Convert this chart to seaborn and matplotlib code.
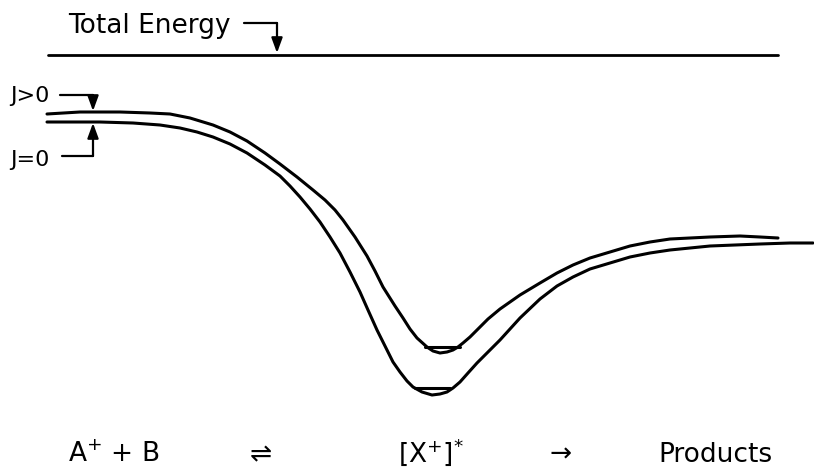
import numpy as np
import pandas as pd
import seaborn as sns
import matplotlib.pyplot as plt

# 势能曲线（读图得到的点，像素坐标，y 向下）
upper_x = [47, 80, 120, 150, 170, 190, 213, 230, 247, 265, 280, 297, 313, 325, 335,
           343, 355, 367, 375, 383, 395, 403, 410, 417, 427, 433, 440, 447, 453, 458,
           463, 470, 477, 488, 500, 520, 540, 557, 573, 590, 610, 630, 650, 670, 690,
           710, 740, 760, 778]
upper_y = [114, 112, 112, 113, 114, 118, 125, 132, 141, 153, 164, 177, 190, 200, 210,
           220, 237, 256, 271, 287, 306, 318, 329, 338, 347, 351, 353, 352, 350, 347,
           343, 337, 330, 319, 309, 295, 283, 273, 265, 258, 252, 246, 242, 239, 238,
           237, 236, 237, 238]
lower_x = [47, 100, 133, 160, 180, 197, 213, 230, 247, 265, 280, 290, 300, 310, 320,
           330, 340, 350, 360, 368, 377, 387, 393, 400, 407, 413, 422, 432, 440, 447,
           453, 460, 468, 477, 488, 500, 520, 540, 557, 573, 590, 610, 630, 650, 670,
           690, 710, 735, 760, 790, 813]
lower_y = [122, 122, 123, 125, 128, 132, 137, 144, 153, 165, 176, 186, 197, 209, 222,
           237, 253, 272, 292, 310, 330, 350, 362, 372, 381, 387, 392, 395, 394, 392,
           388, 382, 373, 363, 352, 340, 318, 299, 286, 277, 269, 263, 257, 253, 250,
           248, 246, 245, 244, 243, 243]
# 总能量线和两个零点能级
total_x = [48, 778]
total_y = [55, 55]
zpe_upper_x = [425, 460]
zpe_upper_y = [347, 347]
zpe_lower_x = [415, 450]
zpe_lower_y = [388, 388]

curve_labels = ['J>0', 'J=0']
bottom_labels = ['A$^{+}$ + B', '\u21cc', '[X$^{+}$]$^{*}$', '\u2192', 'Products']
bottom_x = [114, 261, 431, 561, 715]

sns.set_style('white')
plt.rcParams['font.family'] = ['DejaVu Sans']
plt.rcParams['text.color'] = 'black'

df = pd.concat([
    pd.DataFrame({'x': upper_x, 'y': upper_y, 'level': 'upper'}),
    pd.DataFrame({'x': lower_x, 'y': lower_y, 'level': 'lower'}),
    pd.DataFrame({'x': zpe_upper_x, 'y': zpe_upper_y, 'level': 'zpe_u'}),
    pd.DataFrame({'x': zpe_lower_x, 'y': zpe_lower_y, 'level': 'zpe_l'}),
])

fig = plt.figure(figsize=(8.14, 4.69), dpi=100)
ax = fig.add_axes([0, 0, 1, 1])
sns.lineplot(data=df, x='x', y='y', units='level', estimator=None, sort=False,
             color='black', lw=2.2, ax=ax, solid_joinstyle='round', solid_capstyle='round')
sns.lineplot(x=total_x, y=total_y, color='black', lw=2.0, ax=ax)

arrow = dict(arrowstyle='-|>,head_length=0.6,head_width=0.22', color='black',
             lw=1.6, shrinkA=0, shrinkB=0, mutation_scale=15)

# Total Energy 标注
ax.text(68, 33, 'Total Energy', fontsize=19, ha='left', va='baseline', color='black')
ax.plot([244, 277], [23, 23], color='black', lw=1.6)
ax.annotate('', xy=(277, 53), xytext=(277, 23), arrowprops=arrow)

# J>0 / J=0 标注
ax.text(10, 102, curve_labels[0], fontsize=16, ha='left', va='baseline', color='black')
ax.plot([60, 93], [95, 95], color='black', lw=1.6)
ax.annotate('', xy=(93, 111), xytext=(93, 95), arrowprops=arrow)
ax.text(10, 166, curve_labels[1], fontsize=16, ha='left', va='baseline', color='black')
ax.plot([62, 93], [156, 156], color='black', lw=1.6)
ax.annotate('', xy=(93, 123), xytext=(93, 156), arrowprops=arrow)

# 底部反应式
for lab, xx in zip(bottom_labels, bottom_x):
    ax.text(xx, 462, lab, fontsize=19, ha='center', va='baseline', color='black')

ax.set_xlim(0, 814)
ax.set_ylim(469, 0)
ax.axis('off')
fig.savefig('out.png', dpi=100)
